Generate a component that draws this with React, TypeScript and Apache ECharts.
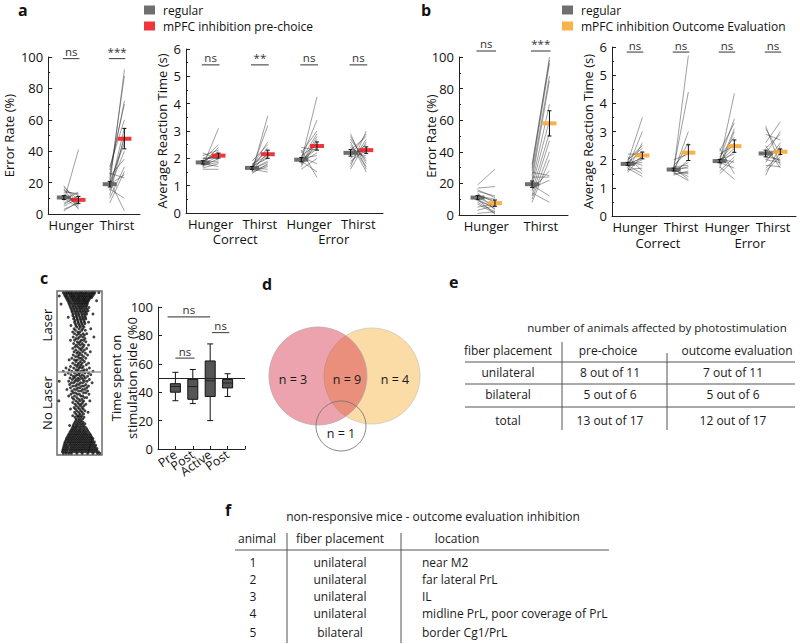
import React, { useEffect, useRef } from 'react';
import * as echarts from 'echarts';

const FONT = "'Open Sans', 'Noto Sans', sans-serif";

// ---------- categories ----------
const ER_CATS = ['Hunger', 'Thirst'];
const RT_CATS = ['Hunger', 'Thirst', 'Hunger', 'Thirst'];
const RT_GROUPS = ['Correct', 'Error'];
const BOX_CATS = ['', 'Pre', 'Post', 'Active', 'Post', ''];

// ---------- panel a : pre-choice inhibition ----------
const A_ER_REG = [
  [8, 12, 15, 18, 5, 10, 14, 3, 11, 16, 7, 13, 2, 9, 12, 17, 6],
  [18, 22, 25, 28, 30, 15, 12, 20, 17, 24, 10, 7, 19, 16, 21, 26, 18],
];
const A_ER_INH = [
  [41, 8, 12, 6, 10, 4, 13, 7, 9, 3, 11, 5, 8, 14, 6, 9, 12],
  [92, 88, 72, 70, 60, 55, 50, 45, 40, 35, 30, 27, 25, 10, 2, 23, 48],
];
const A_ER_MEAN_REG = [10.5, 19];
const A_ER_SEM_REG = [1.2, 1.8];
const A_ER_MEAN_INH = [9, 48];
const A_ER_SEM_INH = [2.2, 6.5];
const A_ER_SIG = ['ns', '***'];

const A_RT_REG = [
  [1.7, 1.8, 1.9, 2.0, 1.85, 1.75, 1.65, 2.1, 1.95, 1.8, 1.7, 1.9, 2.2, 1.6, 1.85, 2.0, 1.75],
  [1.5, 1.6, 1.7, 1.65, 1.55, 1.8, 1.6, 1.45, 1.7, 1.75, 1.5, 1.65, 1.6, 1.9, 1.55, 1.7, 1.6],
  [1.9, 2.0, 2.2, 1.8, 1.7, 2.1, 1.95, 2.4, 1.85, 1.6, 2.05, 1.9, 2.3, 1.75, 2.0, 1.95, 1.9],
  [2.9, 2.7, 2.3, 2.1, 1.9, 1.7, 2.5, 2.2, 2.0, 1.6, 2.4, 2.8, 2.1, 2.3, 1.8, 2.6, 2.2],
];
const A_RT_INH = [
  [3.1, 2.4, 2.2, 2.0, 1.9, 2.1, 1.8, 2.3, 2.5, 1.7, 2.0, 2.15, 1.95, 1.6, 2.25, 2.05, 1.85],
  [3.55, 3.2, 2.6, 2.4, 2.2, 2.1, 1.9, 1.8, 2.0, 2.3, 1.7, 1.6, 1.5, 2.5, 1.75, 2.05, 1.85],
  [4.25, 3.4, 3.0, 2.8, 2.6, 2.5, 2.4, 2.3, 2.2, 2.0, 1.8, 1.5, 1.3, 2.7, 2.1, 2.9, 2.35],
  [1.6, 1.9, 2.8, 2.5, 2.3, 3.0, 1.7, 2.1, 2.4, 2.6, 2.0, 1.8, 2.9, 2.2, 2.7, 1.5, 2.3],
];
const A_RT_MEAN_REG = [1.85, 1.65, 1.95, 2.2];
const A_RT_SEM_REG = [0.06, 0.05, 0.08, 0.12];
const A_RT_MEAN_INH = [2.1, 2.15, 2.45, 2.3];
const A_RT_SEM_INH = [0.09, 0.15, 0.15, 0.12];
const A_RT_SIG = ['ns', '**', 'ns', 'ns'];

// ---------- panel b : outcome evaluation inhibition ----------
const B_ER_REG = [
  [19, 17, 15, 13, 12, 11, 10, 9, 8, 7, 14, 16, 5, 3, 1, 12, 10],
  [30, 32, 28, 25, 22, 20, 18, 15, 12, 10, 8, 27, 17, 14, 19, 24, 16],
];
const B_ER_INH = [
  [29, 18, 12, 8, 10, 6, 4, 5, 2, 1, 3, 11, 7, 6, 2, 9, 0.5],
  [100, 98, 96, 88, 85, 70, 60, 52, 47, 40, 35, 25, 22, 8, 12, 24, 28],
];
const B_ER_MEAN_REG = [11, 19.5];
const B_ER_SEM_REG = [1.3, 2];
const B_ER_MEAN_INH = [7.5, 58];
const B_ER_SEM_INH = [2, 8];
const B_ER_SIG = ['ns', '***'];

const B_RT_REG = [
  [1.9, 1.7, 1.6, 2.0, 2.2, 1.8, 1.75, 1.85, 1.95, 1.65, 2.1, 1.8, 1.7, 1.9, 2.0, 1.85, 1.55],
  [1.6, 1.7, 1.55, 1.65, 1.8, 1.5, 1.6, 1.75, 1.7, 1.45, 1.6, 1.65, 1.7, 1.55, 2.0, 1.6, 1.5],
  [1.9, 2.0, 2.3, 1.8, 1.7, 2.1, 1.95, 2.2, 1.85, 1.6, 2.05, 1.9, 2.4, 1.75, 2.0, 1.95, 1.5],
  [3.2, 3.1, 2.9, 2.6, 2.4, 2.2, 2.0, 1.8, 1.6, 1.45, 2.3, 2.1, 1.9, 2.5, 2.0, 1.7, 2.2],
];
const B_RT_INH = [
  [3.5, 3.0, 2.6, 2.4, 2.2, 2.1, 2.0, 1.9, 1.8, 1.7, 1.6, 1.5, 1.4, 2.3, 2.5, 2.05, 2.15],
  [5.7, 4.4, 3.0, 2.6, 2.3, 2.0, 1.9, 1.8, 1.7, 1.6, 1.5, 1.4, 1.3, 1.25, 2.2, 1.75, 1.55],
  [4.35, 3.45, 3.3, 3.1, 3.0, 2.8, 2.6, 2.5, 2.3, 2.1, 1.9, 1.7, 1.5, 1.3, 2.2, 2.4, 2.0],
  [1.8, 2.2, 2.7, 3.35, 2.9, 3.0, 1.9, 1.75, 2.1, 2.5, 2.3, 2.0, 2.6, 1.7, 2.4, 2.2, 1.95],
];
const B_RT_MEAN_REG = [1.85, 1.65, 1.95, 2.22];
const B_RT_SEM_REG = [0.05, 0.05, 0.06, 0.12];
const B_RT_MEAN_INH = [2.15, 2.25, 2.48, 2.28];
const B_RT_SEM_INH = [0.12, 0.28, 0.22, 0.1];
const B_RT_SIG = ['ns', 'ns', 'ns', 'ns'];

// ---------- panel c : place preference raster (rows of [y, xs]) ----------
const RASTER_ROWS: [number, number[]][] = [
  [99, [14, 19, 23, 27, 31, 35, 40, 44, 49, 53, 57, 62, 66, 71, 76, 80, 84, 93]],
  [98, [16, 21, 26, 30, 34, 38, 43, 47, 51, 56, 60, 64, 69, 73, 78, 82]],
  [97, [18, 22, 29, 33, 37, 41, 46, 50, 54, 58, 63, 67, 72, 75, 79, 5]],
  [96, [20, 25, 31, 35, 39, 44, 48, 52, 57, 61, 65, 70, 74, 77]],
  [95, [22, 27, 33, 37, 42, 46, 50, 55, 59, 63, 68, 72]],
  [94, [24, 29, 35, 40, 44, 49, 53, 58, 62, 66, 70, 88]],
  [93, [26, 31, 37, 42, 47, 51, 56, 60, 64, 68]],
  [92, [27, 33, 39, 44, 49, 54, 58, 63, 67, 9]],
  [91, [29, 35, 40, 46, 51, 56, 61, 66]],
  [90, [30, 36, 42, 48, 53, 58, 64, 71]],
  [89, [32, 38, 44, 50, 55, 61, 67]],
  [88, [33, 39, 45, 51, 57, 63, 69]],
  [87, [34, 41, 47, 53, 59, 65]],
  [86, [36, 42, 48, 55, 61, 66, 80]],
  [85, [35, 43, 49, 56, 62]],
  [84, [38, 44, 51, 57, 63, 25]],
  [83, [37, 45, 52, 58, 64]],
  [82, [40, 46, 53, 60]],
  [81, [39, 47, 54, 61, 70]],
  [80, [41, 48, 55, 62]],
  [79, [42, 50, 57, 31]],
  [78, [44, 52, 60]],
  [77, [38, 49, 57, 75]],
  [76, [41, 55, 63]],
  [75, [46, 51, 35]],
  [74, [39, 48, 58, 66]],
  [73, [44, 53, 61]],
  [72, [36, 50, 57, 82]],
  [71, [42, 47, 62]],
  [70, [39, 54, 59, 30]],
  [69, [45, 51, 64]],
  [68, [37, 48, 56]],
  [67, [43, 52, 60, 70]],
  [66, [40, 46, 58]],
  [65, [35, 50, 55, 66]],
  [64, [42, 53, 61]],
  [63, [38, 47, 57, 74]],
  [62, [44, 51, 63]],
  [61, [36, 49, 55, 68]],
  [60, [41, 46, 59]],
  [59, [33, 50, 54, 64]],
  [58, [39, 45, 57, 27]],
  [57, [42, 52, 61]],
  [56, [35, 48, 56, 70]],
  [55, [40, 46, 53, 65]],
  [54, [30, 44, 51, 58]],
  [53, [37, 49, 55, 72, 20]],
  [52, [27, 42, 47, 60, 66]],
  [51, [33, 45, 53, 58, 80, 14]],
  [50, [25, 39, 50, 62, 70]],
  [49, [31, 44, 48, 56, 75, 18]],
  [48, [36, 41, 52, 60, 68]],
  [47, [29, 38, 47, 55, 63]],
  [46, [34, 43, 50, 58, 72]],
  [45, [26, 40, 46, 61, 67, 5]],
  [44, [32, 37, 52, 57, 78]],
  [43, [28, 44, 49, 64]],
  [42, [35, 41, 55, 60, 70]],
  [41, [30, 46, 51, 66]],
  [40, [38, 43, 57, 62, 22]],
  [39, [33, 48, 54, 68]],
  [38, [36, 41, 59, 64]],
  [37, [31, 45, 50, 71]],
  [36, [39, 53, 57, 26]],
  [35, [34, 44, 61, 66]],
  [34, [37, 48, 55]],
  [33, [42, 51, 59, 73, 4]],
  [32, [35, 46, 57]],
  [31, [40, 49, 54, 64]],
  [30, [43, 52, 60]],
  [29, [38, 47, 56]],
  [28, [41, 50, 58, 30]],
  [27, [44, 53, 62]],
  [26, [39, 48, 56, 69]],
  [25, [42, 51, 59]],
  [24, [45, 49, 55, 35]],
  [23, [40, 47, 53, 60]],
  [22, [43, 50, 57]],
  [21, [42, 48, 54]],
  [20, [40, 46, 52, 58]],
  [19, [38, 44, 50, 56, 62]],
  [18, [36, 42, 47, 53, 59, 28]],
  [17, [35, 40, 45, 51, 57, 63]],
  [16, [33, 38, 43, 49, 54, 60, 66]],
  [15, [31, 36, 41, 46, 51, 57, 62, 68]],
  [14, [29, 34, 39, 44, 49, 54, 59, 64, 70]],
  [13, [27, 32, 37, 42, 47, 52, 57, 62, 67, 73]],
  [12, [25, 30, 35, 40, 45, 50, 55, 60, 65, 70, 75]],
  [11, [23, 28, 33, 38, 43, 48, 53, 58, 63, 68, 73, 77]],
  [10, [21, 26, 31, 36, 41, 46, 51, 56, 61, 66, 71, 76, 80]],
  [9, [20, 25, 30, 35, 40, 45, 50, 55, 60, 65, 70, 75, 79]],
  [8, [18, 24, 29, 34, 39, 44, 49, 54, 59, 64, 69, 74, 78, 83]],
  [7, [17, 22, 28, 33, 38, 43, 48, 53, 58, 63, 68, 73, 77, 82]],
  [6, [16, 21, 27, 32, 37, 42, 47, 52, 57, 62, 67, 72, 76, 81, 86]],
  [5, [15, 20, 25, 31, 36, 41, 46, 51, 56, 61, 66, 71, 75, 80, 85]],
  [4, [14, 19, 24, 30, 35, 40, 45, 50, 55, 60, 65, 70, 74, 79, 84, 89]],
  [3, [13, 18, 23, 29, 34, 39, 44, 49, 54, 59, 64, 69, 73, 78, 83, 88]],
  [2, [12, 17, 22, 28, 33, 38, 43, 48, 53, 58, 63, 68, 72, 77, 82, 87, 92]],
  [1, [14, 20, 26, 32, 44, 56, 68, 80, 90, 95]],
];
const RASTER_DIVIDER = 51;

// ---------- panel c : box plot (x, min, q1, median, q3, max) ----------
const BOX_DATA = [
  [1, 34, 40, 44, 46, 54],
  [2, 32, 35, 44, 49, 56],
  [3, 20, 37, 48, 62, 74],
  [4, 37, 43, 46.5, 49, 53],
];
const BOX_REF = 50;
const BOX_SIG = [
  [0.55, 3.0, 93],
  [3.1, 4.1, 82],
  [1.0, 2.1, 64],
];
const BOX_SIG_LABELS = ['ns', 'ns', 'ns'];

// ---------- panel d : venn counts ----------
const VENN_LABELS = ['n = 3', 'n = 9', 'n = 4', 'n = 1'];

// ---------- panel e : table ----------
const E_TITLE = 'number of animals affected by photostimulation';
const E_HEAD = ['fiber placement', 'pre-choice', 'outcome evaluation'];
const E_ROWS = [
  ['unilateral', '8 out of 11', '7 out of 11'],
  ['bilateral', '5 out of 6', '5 out of 6'],
  ['total', '13 out of 17', '12 out of 17'],
];

// ---------- panel f : table ----------
const F_TITLE = 'non-responsive mice - outcome evaluation inhibition';
const F_HEAD = ['animal', 'fiber placement', 'location'];
const F_ROWS = [
  ['1', 'unilateral', 'near M2'],
  ['2', 'unilateral', 'far lateral PrL'],
  ['3', 'unilateral', 'IL'],
  ['4', 'unilateral', 'midline PrL, poor coverage of PrL'],
  ['5', 'bilateral', 'border Cg1/PrL'],
];

const GRAY = 'rgba(95,95,95,0.9)';
const RED = 'rgba(236,32,38,0.9)';
const ORANGE = 'rgba(249,168,52,0.9)';

function pairSeries(xi: number, yi: number, reg: number[][], inh: number[][]) {
  const data: number[][] = [];
  reg.forEach((arr, c) => arr.forEach((v, k) => data.push([c, v, inh[c][k]])));
  return {
    type: 'custom', xAxisIndex: xi, yAxisIndex: yi, data, z: 2, silent: true,
    encode: { x: 0, y: [1, 2] },
    renderItem: (params: any, api: any) => {
      const c = api.value(0), a = api.value(1), b = api.value(2);
      const bw = api.size([1, 0])[0];
      const off = bw * 0.16;
      const p1 = api.coord([c, a]);
      const p2 = api.coord([c, b]);
      return {
        type: 'line',
        shape: { x1: p1[0] - off, y1: p1[1], x2: p2[0] + off, y2: p2[1] },
        style: { stroke: '#2a2a2a', lineWidth: 0.6, opacity: 0.75 },
      };
    },
  };
}

function meanSeries(name: string, color: string, xi: number, yi: number, means: number[], sems: number[], side: number) {
  return {
    type: 'custom', name, xAxisIndex: xi, yAxisIndex: yi, z: 3, silent: true,
    itemStyle: { color },
    data: means.map((m, i) => [i, m, sems[i]]),
    encode: { x: 0, y: 1 },
    renderItem: (params: any, api: any) => {
      const c = api.value(0), m = api.value(1), s = api.value(2);
      const bw = api.size([1, 0])[0];
      const p = api.coord([c, m]);
      const x = p[0] + side * bw * 0.16;
      const top = api.coord([c, m + s])[1];
      const bot = api.coord([c, m - s])[1];
      const st = { stroke: '#111', lineWidth: 1 };
      return {
        type: 'group',
        children: [
          { type: 'rect', shape: { x: x - 7, y: p[1] - 2, width: 14, height: 4 }, style: { fill: color } },
          { type: 'line', shape: { x1: x, y1: top, x2: x, y2: bot }, style: st },
          { type: 'line', shape: { x1: x - 2, y1: top, x2: x + 2, y2: top }, style: st },
          { type: 'line', shape: { x1: x - 2, y1: bot, x2: x + 2, y2: bot }, style: st },
        ],
      };
    },
  };
}

function sigSeries(xi: number, yi: number, y: number, labels: string[]) {
  return {
    type: 'custom', xAxisIndex: xi, yAxisIndex: yi, z: 4, silent: true, clip: false,
    data: labels.map((_, i) => [i, y]),
    encode: { x: 0, y: 1 },
    renderItem: (params: any, api: any) => {
      const c = api.value(0), v = api.value(1);
      const bw = api.size([1, 0])[0];
      const p = api.coord([c, v]);
      const hw = bw * 0.18;
      return {
        type: 'group',
        children: [
          { type: 'line', shape: { x1: p[0] - hw, y1: p[1], x2: p[0] + hw, y2: p[1] }, style: { stroke: '#555', lineWidth: 1.2 } },
          { type: 'text', x: p[0], y: p[1] - 1, style: { text: labels[params.dataIndex], fill: '#333', fontSize: 11.5, fontFamily: FONT, align: 'center', verticalAlign: 'bottom' } },
        ],
      };
    },
  };
}

const axisLineStyle = { lineStyle: { color: '#222', width: 1 } };
const labelStyle = { color: '#111', fontSize: 13, fontFamily: FONT };

function catX(grid: number, data: string[]) {
  return {
    type: 'category', gridIndex: grid, data, boundaryGap: true,
    axisLine: axisLineStyle,
    axisTick: { inside: true, alignWithLabel: true, interval: 0, length: 3, lineStyle: { color: '#222' } },
    axisLabel: { ...labelStyle, margin: 4, interval: 0, lineHeight: 14 },
    splitLine: { show: false },
  };
}
function groupX(grid: number, offset: number) {
  return {
    type: 'category', gridIndex: grid, data: RT_GROUPS, position: 'bottom', offset,
    axisLine: { show: false }, axisTick: { show: false },
    axisLabel: { ...labelStyle, margin: 4, interval: 0, lineHeight: 14 },
    splitLine: { show: false },
  };
}
function valY(grid: number, max: number, interval: number, name: string, nameGap: number, minor = true, extra: any = {}) {
  return {
    type: 'value', gridIndex: grid, min: 0, max, interval, name,
    nameLocation: 'middle', nameGap,
    nameTextStyle: { color: '#111', fontSize: 13, fontFamily: FONT, lineHeight: 16 },
    axisLine: { show: true, ...axisLineStyle },
    axisTick: { show: true, inside: true, length: 4, lineStyle: { color: '#222' } },
    minorTick: { show: minor, splitNumber: 2, length: 2, lineStyle: { color: '#222' } },
    axisLabel: { ...labelStyle, margin: 5 },
    splitLine: { show: false },
    ...extra,
  };
}

function text(x: number, y: number, t: string, size = 12, align = 'center', extra: any = {}) {
  return {
    type: 'text', x, y,
    style: { text: t, fill: '#1a1a1a', fontSize: size, fontFamily: FONT, align, verticalAlign: 'middle', ...extra },
  };
}
function hline(x1: number, x2: number, y: number, color = '#555') {
  return { type: 'line', shape: { x1, y1: y, x2, y2: y }, style: { stroke: color, lineWidth: 1 } };
}
function vline(x: number, y1: number, y2: number, color = '#555') {
  return { type: 'line', shape: { x1: x, y1, x2: x, y2 }, style: { stroke: color, lineWidth: 1 } };
}
function letter(x: number, baseline: number, t: string) {
  return { type: 'text', x, y: baseline - 4, style: { text: t, fill: '#111', fontSize: 16, lineHeight: 16, fontWeight: 'bold', fontFamily: FONT, align: 'left', verticalAlign: 'middle' } };
}

function buildOption() {
  const rasterData: number[][] = [];
  RASTER_ROWS.forEach(([y, xs]) => xs.forEach((x) => rasterData.push([x, y])));

  const graphics: any[] = [
    letter(18, 14, 'a'), letter(421, 14, 'b'), letter(40, 282, 'c'),
    letter(262, 288, 'd'), letter(449, 286, 'e'), letter(225, 514, 'f'),
    // raster side labels
    { type: 'text', x: 47, y: 325, rotation: Math.PI / 2, style: { text: 'Laser', fill: '#111', fontSize: 13, fontFamily: FONT, align: 'center', verticalAlign: 'middle' } },
    { type: 'text', x: 47, y: 403, rotation: Math.PI / 2, style: { text: 'No Laser', fill: '#111', fontSize: 13, fontFamily: FONT, align: 'center', verticalAlign: 'middle' } },
    // venn
    { type: 'circle', shape: { cx: 372, cy: 376, r: 48 }, style: { fill: '#fbdca6', stroke: '#cfc6b6', lineWidth: 0.8 } },
    { type: 'circle', shape: { cx: 318, cy: 376, r: 49 }, style: { fill: 'rgba(212,46,69,0.44)', stroke: '#bca4a8', lineWidth: 0.8 } },
    { type: 'circle', shape: { cx: 341, cy: 426, r: 25 }, style: { fill: 'none', stroke: '#777', lineWidth: 0.9 } },
    text(293, 379, VENN_LABELS[0], 12.5), text(347, 379, VENN_LABELS[1], 12.5),
    text(395, 379, VENN_LABELS[2], 12.5), text(341, 433, VENN_LABELS[3], 12.5),
    // table e
    text(657, 327, E_TITLE, 11.5),
    text(508, 350, E_HEAD[0], 12), text(608, 350, E_HEAD[1], 12), text(737, 350, E_HEAD[2], 12),
    hline(465, 795, 362), hline(465, 795, 384), hline(465, 795, 407),
    vline(562, 342, 430), vline(667, 353, 430),
  ];
  const eRowY = [372, 394, 420];
  const eColX = [508, 610, 733];
  E_ROWS.forEach((r, i) => r.forEach((t, j) => graphics.push(text(eColX[j], eRowY[i], t, 12))));
  // table f
  graphics.push(text(433, 516, F_TITLE, 12));
  graphics.push(text(257, 538, F_HEAD[0], 12), text(340, 538, F_HEAD[1], 12), text(457, 538, F_HEAD[2], 12));
  graphics.push(hline(235, 609, 550), vline(287, 533, 643), vline(401, 533, 643));
  const fRowY = [562, 579, 596, 613, 632];
  F_ROWS.forEach((r, i) => {
    graphics.push(text(253, fRowY[i], r[0], 12));
    graphics.push(text(340, fRowY[i], r[1], 12));
    graphics.push(text(422, fRowY[i], r[2], 12, 'left'));
  });

  const legendText = { color: '#111', fontSize: 12, fontFamily: FONT, lineHeight: 16, padding: [0, 0, 0, 3] };

  return {
    animation: false,
    backgroundColor: '#fff',
    textStyle: { fontFamily: FONT },
    legend: [
      {
        left: 144, top: 2, padding: 0, orient: 'vertical', itemWidth: 11, itemHeight: 9, itemGap: 0, icon: 'rect',
        textStyle: legendText, selectedMode: false,
        data: ['regular', 'mPFC inhibition pre-choice'],
      },
      {
        left: 562, top: 2, padding: 0, orient: 'vertical', itemWidth: 11, itemHeight: 9, itemGap: 0, icon: 'rect',
        textStyle: legendText, selectedMode: false,
        data: ['regular', 'mPFC inhibition Outcome Evaluation'],
      },
    ],
    grid: [
      { left: 34, top: 57, width: 106, height: 157 },
      { left: 186, top: 49, width: 197, height: 164 },
      { left: 459, top: 57, width: 109, height: 158 },
      { left: 612, top: 47, width: 184, height: 169 },
      { left: 57, top: 291, width: 45, height: 164, show: true, borderColor: '#6e6e6e', borderWidth: 1.5, backgroundColor: '#fff' },
      { left: 158, top: 307, width: 87, height: 142 },
    ],
    xAxis: [
      catX(0, ER_CATS),
      catX(1, RT_CATS),
      groupX(1, 15),
      catX(2, ER_CATS),
      catX(3, RT_CATS),
      groupX(3, 16),
      { type: 'value', gridIndex: 4, min: 0, max: 100, show: false },
      {
        type: 'value', gridIndex: 5, min: 0, max: 5, interval: 1,
        axisLine: axisLineStyle,
        axisTick: { inside: true, length: 3, lineStyle: { color: '#222' } },
        axisLabel: { ...labelStyle, fontSize: 12.5, rotate: 35, margin: 4, formatter: (v: number) => BOX_CATS[v] || '' },
        splitLine: { show: false },
      },
    ],
    yAxis: [
      valY(0, 100, 20, 'Error Rate (%)', 14),
      valY(1, 6, 1, 'Average Reaction Time (s)', 13),
      valY(2, 100, 20, 'Error Rate (%)', 20, true, { nameMoveOverlap: false }),
      valY(3, 6, 1, 'Average Reaction Time (s)', 9),
      { type: 'value', gridIndex: 4, min: 0, max: 100, show: false },
      valY(5, 100, 20, 'Time spent on\nstimulation side (%0', 18, false, { nameMoveOverlap: false }),
    ],
    series: [
      pairSeries(0, 0, A_ER_REG, A_ER_INH),
      meanSeries('regular', GRAY, 0, 0, A_ER_MEAN_REG, A_ER_SEM_REG, -1),
      meanSeries('mPFC inhibition pre-choice', RED, 0, 0, A_ER_MEAN_INH, A_ER_SEM_INH, 1),
      sigSeries(0, 0, 99, A_ER_SIG),

      pairSeries(1, 1, A_RT_REG, A_RT_INH),
      meanSeries('regular', GRAY, 1, 1, A_RT_MEAN_REG, A_RT_SEM_REG, -1),
      meanSeries('mPFC inhibition pre-choice', RED, 1, 1, A_RT_MEAN_INH, A_RT_SEM_INH, 1),
      sigSeries(1, 1, 5.42, A_RT_SIG),

      pairSeries(3, 2, B_ER_REG, B_ER_INH),
      meanSeries('regular', GRAY, 3, 2, B_ER_MEAN_REG, B_ER_SEM_REG, -1),
      meanSeries('mPFC inhibition Outcome Evaluation', ORANGE, 3, 2, B_ER_MEAN_INH, B_ER_SEM_INH, 1),
      sigSeries(3, 2, 103.8, B_ER_SIG),

      pairSeries(4, 3, B_RT_REG, B_RT_INH),
      meanSeries('regular', GRAY, 4, 3, B_RT_MEAN_REG, B_RT_SEM_REG, -1),
      meanSeries('mPFC inhibition Outcome Evaluation', ORANGE, 4, 3, B_RT_MEAN_INH, B_RT_SEM_INH, 1),
      sigSeries(4, 3, 5.82, B_RT_SIG),

      {
        type: 'scatter', xAxisIndex: 6, yAxisIndex: 4, data: rasterData, symbolSize: 2.9, silent: true,
        itemStyle: { color: '#111' },
        markLine: {
          silent: true, symbol: 'none', label: { show: false },
          lineStyle: { color: '#9a9a9a', width: 1.5, type: 'solid' },
          data: [{ yAxis: RASTER_DIVIDER }],
        },
      },
      {
        type: 'custom', xAxisIndex: 7, yAxisIndex: 5, data: BOX_DATA, silent: true, z: 3,
        encode: { x: 0, y: [1, 2, 3, 4, 5] },
        renderItem: (params: any, api: any) => {
          const x = api.value(0);
          const pMin = api.coord([x, api.value(1)]);
          const pQ1 = api.coord([x, api.value(2)]);
          const pMed = api.coord([x, api.value(3)]);
          const pQ3 = api.coord([x, api.value(4)]);
          const pMax = api.coord([x, api.value(5)]);
          const hw = 5, cw = 3;
          const cx = pMin[0];
          const st = { stroke: '#111', lineWidth: 1 };
          return {
            type: 'group',
            children: [
              { type: 'line', shape: { x1: cx, y1: pMax[1], x2: cx, y2: pQ3[1] }, style: st },
              { type: 'line', shape: { x1: cx, y1: pQ1[1], x2: cx, y2: pMin[1] }, style: st },
              { type: 'line', shape: { x1: cx - cw, y1: pMax[1], x2: cx + cw, y2: pMax[1] }, style: st },
              { type: 'line', shape: { x1: cx - cw, y1: pMin[1], x2: cx + cw, y2: pMin[1] }, style: st },
              { type: 'rect', shape: { x: cx - hw, y: pQ3[1], width: hw * 2, height: pQ1[1] - pQ3[1] }, style: { fill: '#555', stroke: '#111', lineWidth: 1 } },
              { type: 'line', shape: { x1: cx - hw, y1: pMed[1], x2: cx + hw, y2: pMed[1] }, style: { stroke: '#222', lineWidth: 1 } },
            ],
          };
        },
        markLine: {
          silent: true, symbol: 'none', label: { show: false },
          lineStyle: { color: '#222', width: 1, type: 'solid' },
          data: [{ yAxis: BOX_REF }],
        },
      },
      {
        type: 'custom', xAxisIndex: 7, yAxisIndex: 5, data: BOX_SIG, silent: true, clip: false, z: 4,
        encode: { x: [0, 1], y: 2 },
        renderItem: (params: any, api: any) => {
          const p1 = api.coord([api.value(0), api.value(2)]);
          const p2 = api.coord([api.value(1), api.value(2)]);
          return {
            type: 'group',
            children: [
              { type: 'line', shape: { x1: p1[0], y1: p1[1], x2: p2[0], y2: p2[1] }, style: { stroke: '#555', lineWidth: 1.2 } },
              { type: 'text', x: (p1[0] + p2[0]) / 2, y: p1[1] - 1, style: { text: BOX_SIG_LABELS[params.dataIndex], fill: '#333', fontSize: 11.5, fontFamily: FONT, align: 'center', verticalAlign: 'bottom' } },
            ],
          };
        },
      },
    ],
    graphic: graphics,
  };
}

export default function App() {
  const ref = useRef<HTMLDivElement>(null);
  useEffect(() => {
    if (!ref.current) return;
    const chart = echarts.init(ref.current, null, { renderer: 'svg' });
    chart.setOption(buildOption() as any);
    return () => chart.dispose();
  }, []);
  return <div ref={ref} style={{ position: 'absolute', left: 0, top: 0, width: 800, height: 644 }} />;
}
